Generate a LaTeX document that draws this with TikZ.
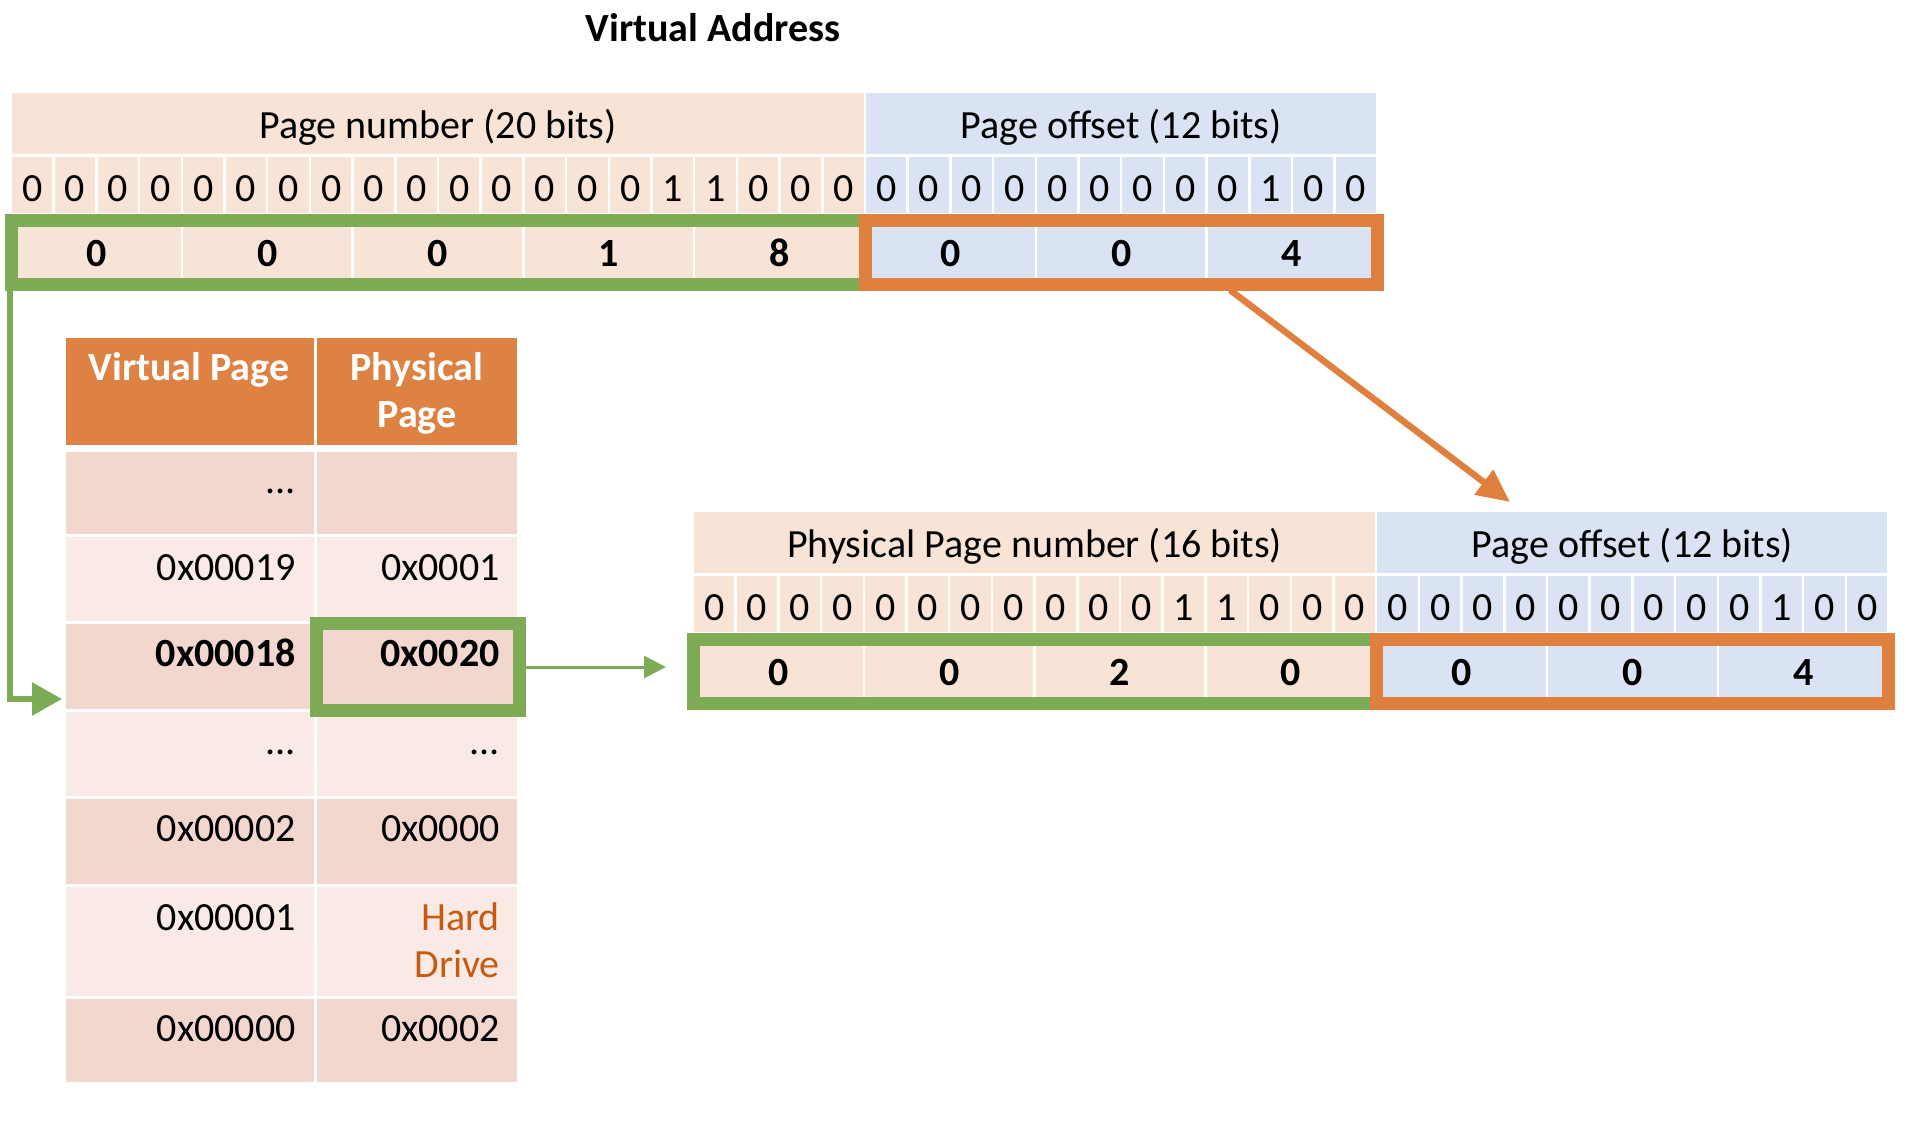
\documentclass[tikz,border=0pt]{standalone}
\usepackage{fontspec}
\setmainfont{Carlito}
\usetikzlibrary{arrows.meta}
\definecolor{peach}{HTML}{F8E4D6}
\definecolor{lblue}{HTML}{DAE3F3}
\definecolor{grn}{HTML}{7EAB55}
\definecolor{orb}{HTML}{E0803F}
\definecolor{thead}{HTML}{DE8244}
\definecolor{rowA}{HTML}{F2D7CE}
\definecolor{rowB}{HTML}{F9EAE6}
\definecolor{hdrive}{HTML}{C55A11}
\begin{document}
\begin{tikzpicture}[x=1pt,y=-1pt,
  every node/.style={inner sep=0pt, font=\fontsize{40}{47}\selectfont},
  cellP/.style={fill=peach, draw=white, line width=2.5pt},
  cellB/.style={fill=lblue, draw=white, line width=2.5pt},
  cellH/.style={fill=thead, draw=white, line width=3pt},
  cellA/.style={fill=rowA, draw=white, line width=3pt},
  cellL/.style={fill=rowB, draw=white, line width=3pt},
  bitlbl/.style={anchor=base},
  hexlbl/.style={anchor=base, font=\fontsize{40}{47}\selectfont\bfseries},
  tlbl/.style={anchor=base east},
  hlbl/.style={anchor=base, text=white, font=\fontsize{40}{47}\selectfont\bfseries},
  gbox/.style={draw=grn, line width=13pt},
  obox/.style={draw=orb, line width=13pt}]
\useasboundingbox (0,0) rectangle (1906,1132);

% title
\node[anchor=base, font=\fontsize{40}{47}\selectfont\bfseries] (title) at (713,42) {Virtual Address};

% ---------- virtual address ----------
\path[cellP] (11,92) rectangle (865,155.5);
\path[cellB] (865,92) rectangle (1377.4,155.5);
\foreach \i in {0,...,19} \path[cellP] ({11+\i*42.7},155.5) rectangle ({11+(\i+1)*42.7},214);
\foreach \i in {20,...,31} \path[cellB] ({11+\i*42.7},155.5) rectangle ({11+(\i+1)*42.7},214);
\foreach \i in {0,...,4} \path[cellP] ({11+\i*170.8},214) rectangle ({11+(\i+1)*170.8},290);
\foreach \i in {5,6,7} \path[cellB] ({11+\i*170.8},214) rectangle ({11+(\i+1)*170.8},290);
\node[anchor=base] (vpnh) at (438,138) {Page number (20 bits)};
\node[anchor=base] (voffh) at (1121.2,138) {Page offset (12 bits)};
\foreach \b [count=\i from 0] in {0,0,0,0,0,0,0,0,0,0,0,0,0,0,0,1,1,0,0,0,0,0,0,0,0,0,0,0,0,1,0,0}
  \node[bitlbl] (vb\i) at ({11+(\i+0.5)*42.7},201) {\b};
\foreach \h [count=\i from 0] in {0,0,0,1,8,0,0,4}
  \node[hexlbl] (vh\i) at ({11+(\i+0.5)*170.8},266) {\h};
\draw[gbox] (11,220) rectangle (865,284);
\draw[obox] (865,220) rectangle (1377.4,284);

% ---------- physical address ----------
\path[cellP] (693,511) rectangle (1376.2,574.5);
\path[cellB] (1376.2,511) rectangle (1888.6,574.5);
\foreach \i in {0,...,15} \path[cellP] ({693+\i*42.7},574.5) rectangle ({693+(\i+1)*42.7},633);
\foreach \i in {16,...,27} \path[cellB] ({693+\i*42.7},574.5) rectangle ({693+(\i+1)*42.7},633);
\foreach \i in {0,...,3} \path[cellP] ({693+\i*170.8},633) rectangle ({693+(\i+1)*170.8},709);
\foreach \i in {4,5,6} \path[cellB] ({693+\i*170.8},633) rectangle ({693+(\i+1)*170.8},709);
\node[anchor=base] (ppnh) at (1034.6,557) {Physical Page number (16 bits)};
\node[anchor=base] (poffh) at (1632.4,557) {Page offset (12 bits)};
\foreach \b [count=\i from 0] in {0,0,0,0,0,0,0,0,0,0,0,1,1,0,0,0,0,0,0,0,0,0,0,0,0,1,0,0}
  \node[bitlbl] (pb\i) at ({693+(\i+0.5)*42.7},620.5) {\b};
\foreach \h [count=\i from 0] in {0,0,2,0,0,0,4}
  \node[hexlbl] (ph\i) at ({693+(\i+0.5)*170.8},685) {\h};
\draw[gbox] (693,639) rectangle (1376.2,703);
\draw[obox] (1376.2,639) rectangle (1888.6,703);

% ---------- page table ----------
\path[cellH] (64,336) rectangle (315.5,446);
\path[cellH] (315.5,336) rectangle (518,446);
\path[cellA] (64,450) rectangle (315.5,535);   \path[cellA] (315.5,450) rectangle (518,535);
\path[cellL] (64,535) rectangle (315.5,622.5); \path[cellL] (315.5,535) rectangle (518,622.5);
\path[cellA] (64,622.5) rectangle (315.5,710); \path[cellA] (315.5,622.5) rectangle (518,710);
\path[cellL] (64,710) rectangle (315.5,797.5); \path[cellL] (315.5,710) rectangle (518,797.5);
\path[cellA] (64,797.5) rectangle (315.5,885); \path[cellA] (315.5,797.5) rectangle (518,885);
\path[cellL] (64,885) rectangle (315.5,997.5); \path[cellL] (315.5,885) rectangle (518,997.5);
\path[cellA] (64,997.5) rectangle (315.5,1083.5); \path[cellA] (315.5,997.5) rectangle (518,1083.5);

\node[hlbl] (th1) at (189,380) {Virtual Page};
\node[hlbl] (th2a) at (417,380) {Physical};
\node[hlbl] (th2b) at (417,427) {Page};

\node[tlbl] (r1a) at (296,493) {...};
\node[tlbl] (r2a) at (296,580) {0x00019};
\node[tlbl] (r2b) at (500,580) {0x0001};
\node[tlbl, font=\fontsize{40}{47}\selectfont\bfseries] (r3a) at (296,666) {0x00018};
\node[tlbl, font=\fontsize{40}{47}\selectfont\bfseries] (r3b) at (500,666) {0x0020};
\node[tlbl] (r4a) at (296,754) {...};
\node[tlbl] (r4b) at (500,754) {...};
\node[tlbl] (r5a) at (296,841) {0x00002};
\node[tlbl] (r5b) at (500,841) {0x0000};
\node[tlbl] (r6a) at (296,930) {0x00001};
\node[tlbl, text=hdrive] (r6b) at (500,930) {Hard};
\node[tlbl, text=hdrive] (r6c) at (500,977) {Drive};
\node[tlbl] (r7a) at (296,1041) {0x00000};
\node[tlbl] (r7b) at (500,1041) {0x0002};

\draw[gbox] (316,623) rectangle (519,710);

% ---------- connectors ----------
\coordinate (vpnBL) at (10,290);
\coordinate (tblRow) at (62,699);
\coordinate (ppCellR) at (523,667);
\coordinate (ppnL) at (666,667);
\coordinate (voffB) at (1230,290);
\coordinate (poffT) at (1510,502);
\draw[grn, line width=6pt, -{Triangle[length=30pt,width=32pt]}] (vpnBL) |- (tblRow);
\draw[grn, line width=3pt, -{Triangle[length=22pt,width=22pt]}] (ppCellR) -- (ppnL);
\draw[orb, line width=6.5pt, -{Triangle[length=33pt,width=30pt]}] (voffB) -- (poffT);
\end{tikzpicture}
\end{document}
